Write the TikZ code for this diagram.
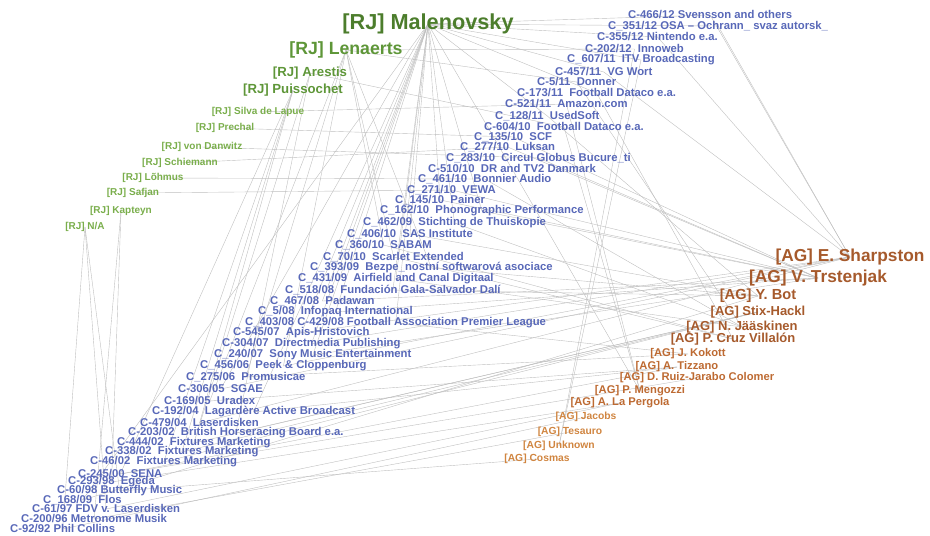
\documentclass[tikz,border=0pt]{standalone}
\usepackage{fontspec}
\setmainfont{Liberation Sans}
\usetikzlibrary{backgrounds}
\definecolor{casec}{HTML}{5868B8}
\definecolor{rjbig}{HTML}{4C7D2C}
\definecolor{rjmid}{HTML}{5E9638}
\definecolor{rjsmall}{HTML}{7AAE4C}
\definecolor{agbig}{HTML}{A65A2C}
\definecolor{agmid}{HTML}{BD6A32}
\definecolor{agsmall}{HTML}{D08540}
\definecolor{edgec}{HTML}{BFBFBF}
\tikzset{
  case/.style={font=\bfseries\fontsize{11.3}{12}\selectfont, text=casec, inner sep=0pt, anchor=west},
  rjA/.style={font=\bfseries\fontsize{21.7}{24}\selectfont, text=rjbig, inner sep=0pt},
  rjB/.style={font=\bfseries\fontsize{17.7}{20}\selectfont, text=rjmid, inner sep=0pt},
  rjC/.style={font=\bfseries\fontsize{13.2}{15}\selectfont, text=rjmid, inner sep=0pt},
  rjD/.style={font=\bfseries\fontsize{10}{12}\selectfont, text=rjsmall, inner sep=0pt},
  agA/.style={font=\bfseries\fontsize{17.3}{20}\selectfont, text=agbig, inner sep=0pt},
  agB/.style={font=\bfseries\fontsize{14.6}{17}\selectfont, text=agbig, inner sep=0pt},
  agC/.style={font=\bfseries\fontsize{13}{15}\selectfont, text=agbig, inner sep=0pt},
  agD/.style={font=\bfseries\fontsize{11.2}{13}\selectfont, text=agmid, inner sep=0pt},
  agE/.style={font=\bfseries\fontsize{10.3}{12}\selectfont, text=agsmall, inner sep=0pt},
  edge/.style={draw=edgec, line width=0.4pt}
}
\begin{document}
\begin{tikzpicture}[x=1pt,y=-1pt]
\useasboundingbox (0,0) rectangle (930,536);
% judges rapporteurs
\node[rjA] (mal) at (428,24) {[RJ] Malenovsky};
\node[rjB] (len) at (346,50) {[RJ] Lenaerts};
\node[rjC] (are) at (310,73) {[RJ] Arestis};
\node[rjC] (pui) at (293,90) {[RJ] Puissochet};
\node[rjD] (sil) at (258,112) {[RJ] Silva de Lapue};
\node[rjD] (pre) at (225,128) {[RJ] Prechal};
\node[rjD] (von) at (202,147) {[RJ] von Danwitz};
\node[rjD] (sch) at (180,163) {[RJ] Schiemann};
\node[rjD] (loh) at (153,178) {[RJ] Lõhmus};
\node[rjD] (saf) at (133,193) {[RJ] Safjan};
\node[rjD] (kap) at (121,211) {[RJ] Kapteyn};
\node[rjD] (na) at (85,227) {[RJ] N/A};
% advocates general
\node[agA] (sha) at (850,257) {[AG] E. Sharpston};
\node[agA] (trs) at (818,278) {[AG] V. Trstenjak};
\node[agB] (bot) at (758,296) {[AG] Y. Bot};
\node[agC] (sti) at (758,312) {[AG] Stix-Hackl};
\node[agC] (jaa) at (742,327) {[AG] N. Jääskinen};
\node[agC] (cru) at (733,339) {[AG] P. Cruz Villalón};
\node[agD] (kok) at (688,354) {[AG] J. Kokott};
\node[agD] (tiz) at (677,367) {[AG] A. Tizzano};
\node[agD] (rui) at (697,378) {[AG] D. Ruiz-Jarabo Colomer};
\node[agD] (men) at (640,391) {[AG] P. Mengozzi};
\node[agD] (lap) at (620,403) {[AG] A. La Pergola};
\node[agE] (jac) at (586,417) {[AG] Jacobs};
\node[agE] (tes) at (570,432) {[AG] Tesauro};
\node[agE] (unk) at (559,446) {[AG] Unknown};
\node[agE] (cos) at (537,459) {[AG] Cosmas};
% cases
\node[case] (c1) at (628,15) {C-466/12 Svensson and others};
\node[case] (c2) at (608,26) {C\_351/12 OSA – Ochrann\_ svaz autorsk\_};
\node[case] (c3) at (597,37) {C-355/12 Nintendo e.a.};
\node[case] (c4) at (585,49) {C-202/12~ Innoweb};
\node[case] (c5) at (567,60) {C\_607/11~ ITV Broadcasting};
\node[case] (c6) at (555,72) {C-457/11~ VG Wort};
\node[case] (c7) at (537,82) {C-5/11~ Donner};
\node[case] (c8) at (517,93) {C-173/11~ Football Dataco e.a.};
\node[case] (c9) at (505,104) {C-521/11~ Amazon.com};
\node[case] (c10) at (495,116) {C\_128/11~ UsedSoft};
\node[case] (c11) at (484,127) {C-604/10~ Football Dataco e.a.};
\node[case] (c12) at (474,137) {C\_135/10~ SCF};
\node[case] (c13) at (460,147) {C\_277/10~ Luksan};
\node[case] (c14) at (446,158) {C\_283/10~ Circul Globus Bucure\_ti};
\node[case] (c15) at (428,169) {C-510/10~ DR and TV2 Danmark};
\node[case] (c16) at (418,179) {C\_461/10~ Bonnier Audio};
\node[case] (c17) at (407,190) {C\_271/10~ VEWA};
\node[case] (c18) at (395,200) {C\_145/10~ Painer};
\node[case] (c19) at (380,211) {C\_162/10~ Phonographic Performance};
\node[case] (c20) at (363,223) {C\_462/09~ Stichting de Thuiskopie};
\node[case] (c21) at (347,234) {C\_406/10~ SAS Institute};
\node[case] (c22) at (335,245) {C\_360/10~ SABAM};
\node[case] (c23) at (323,257) {C\_70/10~ Scarlet Extended};
\node[case] (c24) at (310,268) {C\_393/09~ Bezpe\_nostní softwarová asociace};
\node[case] (c25) at (298,279) {C\_431/09~ Airfield and Canal Digitaal};
\node[case] (c26) at (285,290) {C\_518/08~ Fundación Gala-Salvador Dalí};
\node[case] (c27) at (270,301) {C\_467/08~ Padawan};
\node[case] (c28) at (258,312) {C\_5/08~ Infopaq International};
\node[case] (c29) at (245,323) {C\_403/08 C-429/08 Football Association Premier League};
\node[case] (c30) at (233,333) {C-545/07~ Apis-Hristovich};
\node[case] (c31) at (222,344) {C-304/07~ Directmedia Publishing};
\node[case] (c32) at (214,355) {C\_240/07~ Sony Music Entertainment};
\node[case] (c33) at (200,366) {C\_456/06~ Peek \& Cloppenburg};
\node[case] (c34) at (186,377) {C\_275/06~ Promusicae};
\node[case] (c35) at (178,389) {C-306/05~ SGAE};
\node[case] (c36) at (164,401) {C-169/05~ Uradex};
\node[case] (c37) at (152,412) {C-192/04~ Lagardère Active Broadcast};
\node[case] (c38) at (140,423) {C-479/04~ Laserdisken};
\node[case] (c39) at (128,433) {C-203/02~ British Horseracing Board e.a.};
\node[case] (c40) at (117,443) {C-444/02~ Fixtures Marketing};
\node[case] (c41) at (105,452) {C-338/02~ Fixtures Marketing};
\node[case] (c42) at (90,462) {C-46/02~ Fixtures Marketing};
\node[case] (c43) at (78,474) {C-245/00~ SENA};
\node[case] (c44) at (68,482) {C-293/98~ Egeda};
\node[case] (c45) at (57,491) {C-60/98 Butterfly Music};
\node[case] (c46) at (43,500) {C\_168/09~ Flos};
\node[case] (c47) at (32,509) {C-61/97 FDV v. Laserdisken};
\node[case] (c48) at (21,519) {C-200/96 Metronome Musik};
\node[case] (c49) at (10,529) {C-92/92 Phil Collins};
\begin{scope}[on background layer]
\foreach \r/\c in {mal/c1,mal/c2,mal/c3,len/c4,mal/c5,mal/c6,len/c7,mal/c8,sil/c9,mal/c10,
  are/c11,pre/c12,sch/c13,von/c14,mal/c15,loh/c16,saf/c17,mal/c18,mal/c19,mal/c20,
  mal/c21,len/c22,len/c23,len/c24,mal/c25,mal/c26,mal/c27,mal/c28,mal/c29,mal/c30,
  mal/c31,mal/c32,len/c33,len/c34,mal/c35,len/c36,mal/c37,pui/c38,are/c39,are/c40,
  pui/c41,pui/c42,pui/c43,kap/c44,na/c45,mal/c46,na/c47,kap/c48,na/c49}
  \draw[edge] (\r.center) -- (\c.center);
\foreach \a/\c in {sha/c1,sha/c2,sha/c3,unk/c4,unk/c5,sha/c6,jaa/c7,cru/c8,men/c9,bot/c10,
  men/c11,trs/c12,trs/c13,trs/c14,men/c15,jaa/c16,trs/c17,trs/c18,trs/c19,jaa/c20,
  bot/c21,cru/c22,cru/c23,bot/c24,jaa/c25,bot/c26,trs/c27,trs/c28,kok/c29,sha/c30,
  sha/c31,trs/c32,sha/c33,kok/c34,sha/c35,tiz/c36,tiz/c37,sha/c38,sti/c39,sti/c40,
  sti/c41,sti/c42,tiz/c43,lap/c44,cos/c45,bot/c46,lap/c47,tes/c48,jac/c49,rui/c43}
  \draw[edge] (\a.center) -- (\c.center);
\end{scope}
\end{tikzpicture}
\end{document}
